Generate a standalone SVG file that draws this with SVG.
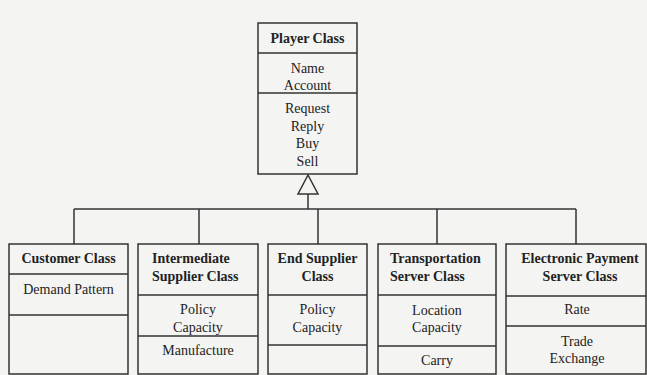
<svg xmlns="http://www.w3.org/2000/svg" width="647" height="375" viewBox="0 0 647 375">
<style>
.box{fill:none;stroke:#333;stroke-width:1.5}
.ln{fill:none;stroke:#333;stroke-width:1.5}
.h{font-family:"Liberation Serif","Times New Roman",serif;font-size:14px;font-weight:bold;fill:#222}
.t{font-family:"Liberation Serif","Times New Roman",serif;font-size:14px;fill:#222}
.c{text-anchor:middle}
</style>
<rect x="0" y="0" width="647" height="375" fill="#f4f4f3"/>
<g id="connectors">
<polygon class="ln" points="308,175 298,194 318,194"/>
<line class="ln" x1="308" y1="194" x2="308" y2="209"/>
<line class="ln" x1="74" y1="209" x2="576" y2="209"/>
<line class="ln" x1="74" y1="209" x2="74" y2="244"/>
<line class="ln" x1="199" y1="209" x2="199" y2="244"/>
<line class="ln" x1="318" y1="209" x2="318" y2="244"/>
<line class="ln" x1="437" y1="209" x2="437" y2="244"/>
<line class="ln" x1="576" y1="209" x2="576" y2="244"/>
</g>
<g id="player">
<rect class="box" x="258" y="23" width="99" height="151"/>
<line class="ln" x1="258" y1="53" x2="357" y2="53"/>
<line class="ln" x1="258" y1="93" x2="357" y2="93"/>
<text class="h c" x="307.5" y="43">Player Class</text>
<text class="t c" x="307.5" y="73">Name</text>
<text class="t c" x="307.5" y="90">Account</text>
<text class="t c" x="307.5" y="113">Request</text>
<text class="t c" x="307.5" y="131">Reply</text>
<text class="t c" x="307.5" y="148">Buy</text>
<text class="t c" x="307.5" y="166">Sell</text>
</g>
<g id="customer">
<rect class="box" x="9" y="244" width="119" height="130"/>
<line class="ln" x1="9" y1="274" x2="128" y2="274"/>
<line class="ln" x1="9" y1="315" x2="128" y2="315"/>
<text class="h c" x="68.5" y="263">Customer Class</text>
<text class="t c" x="68.5" y="294">Demand Pattern</text>
</g>
<g id="intermediate">
<rect class="box" x="138" y="244" width="120" height="130"/>
<line class="ln" x1="138" y1="295" x2="258" y2="295"/>
<line class="ln" x1="138" y1="336" x2="258" y2="336"/>
<text class="h" x="152" y="263">Intermediate</text>
<text class="h" x="152" y="281">Supplier Class</text>
<text class="t c" x="198" y="314">Policy</text>
<text class="t c" x="198" y="332">Capacity</text>
<text class="t c" x="198" y="355">Manufacture</text>
</g>
<g id="endsupplier">
<rect class="box" x="268" y="244" width="99" height="130"/>
<line class="ln" x1="268" y1="295" x2="367" y2="295"/>
<line class="ln" x1="268" y1="345" x2="367" y2="345"/>
<text class="h c" x="317.5" y="263">End Supplier</text>
<text class="h c" x="317.5" y="281">Class</text>
<text class="t c" x="317.5" y="314">Policy</text>
<text class="t c" x="317.5" y="332">Capacity</text>
</g>
<g id="transportation">
<rect class="box" x="378" y="244" width="118" height="130"/>
<line class="ln" x1="378" y1="295" x2="496" y2="295"/>
<line class="ln" x1="378" y1="346" x2="496" y2="346"/>
<text class="h" x="390" y="263">Transportation</text>
<text class="h" x="390" y="281">Server Class</text>
<text class="t c" x="437" y="315">Location</text>
<text class="t c" x="437" y="332">Capacity</text>
<text class="t c" x="437" y="365">Carry</text>
</g>
<g id="payment">
<rect class="box" x="506" y="244" width="140" height="130"/>
<line class="ln" x1="506" y1="296" x2="646" y2="296"/>
<line class="ln" x1="506" y1="326" x2="646" y2="326"/>
<text class="h c" x="580" y="263">Electronic Payment</text>
<text class="h c" x="580" y="281">Server Class</text>
<text class="t c" x="577" y="314">Rate</text>
<text class="t c" x="577" y="346">Trade</text>
<text class="t c" x="577" y="363">Exchange</text>
</g>
</svg>
